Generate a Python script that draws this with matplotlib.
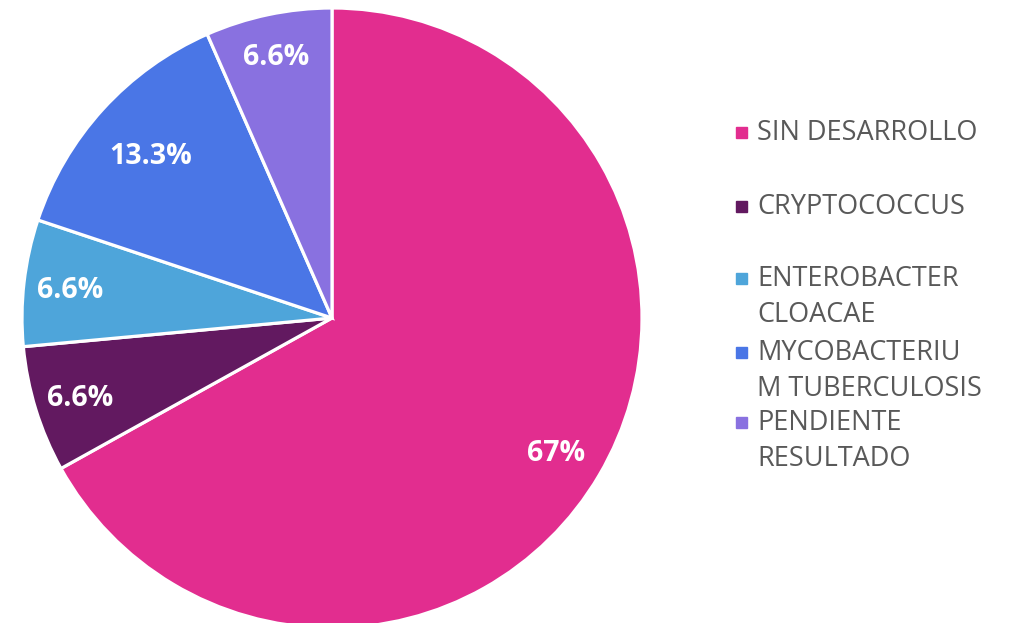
import numpy as np
import matplotlib.pyplot as plt
from matplotlib.patches import Rectangle

categories = ["SIN DESARROLLO", "CRYPTOCOCCUS", "ENTEROBACTER CLOACAE",
              "MYCOBACTERIUM TUBERCULOSIS", "PENDIENTE RESULTADO"]
legend_lines = ["SIN DESARROLLO", "CRYPTOCOCCUS", "ENTEROBACTER\nCLOACAE",
                "MYCOBACTERIU\nM TUBERCULOSIS", "PENDIENTE\nRESULTADO"]
values = [67, 6.6, 6.6, 13.3, 6.6]
pct_labels = ["67%", "6.6%", "6.6%", "13.3%", "6.6%"]
colors = ["#E22D8F", "#621960", "#4EA5DA", "#4A76E6", "#8971E0"]

# how far out each percentage sits (fraction of radius)
label_dist = [0.84, 0.85, 0.85, 0.79, 0.87]


def main():
    fig = plt.figure(figsize=(10.10, 6.23), dpi=100)
    W, H = 1010, 623
    cx, cy, r = 332, 318, 310
    ax = fig.add_axes([(cx - r) / W, 1 - (cy + r) / H, 2 * r / W, 2 * r / H])

    wedges, _ = ax.pie(values, colors=colors, startangle=90, counterclock=False,
                       radius=1.0,
                       wedgeprops=dict(edgecolor="white", linewidth=2.3))
    for w, lab, d in zip(wedges, pct_labels, label_dist):
        ang = np.deg2rad((w.theta1 + w.theta2) / 2)
        ax.text(d * np.cos(ang), d * np.sin(ang) - 0.01, lab, ha="center", va="center",
                color="white", fontsize=20.5, fontweight="bold", family="Open Sans")
    ax.set_xlim(-1, 1)
    ax.set_ylim(-1, 1)
    ax.set_aspect("equal")
    ax.axis("off")

    # legend, drawn by hand to keep Excel-like spacing
    starts = [133, 207, 279, 353, 423]
    for y0, lab, col in zip(starts, legend_lines, colors):
        fig.patches.append(Rectangle((736 / W, 1 - (y0 + 5) / H), 11 / W, 11 / H,
                                     transform=fig.transFigure, color=col))
        for i, line in enumerate(lab.split("\n")):
            fig.text(757 / W, 1 - (y0 + i * 36) / H, line, ha="left", va="center",
                     fontsize=19.5, color="#595959", family="Open Sans")

    fig.savefig("out.png", dpi=100)


if __name__ == "__main__":
    main()
